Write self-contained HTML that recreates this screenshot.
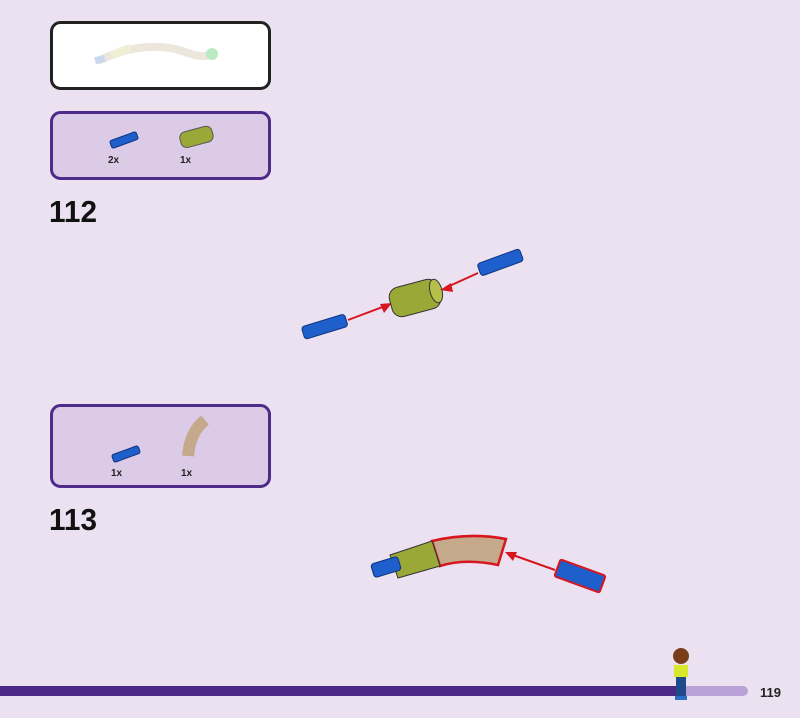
<!DOCTYPE html>
<html><head><style>
html,body{margin:0;padding:0;background:#ebe1f0;}
svg{display:block;}
text{font-family:"Liberation Sans",sans-serif;}
</style></head><body>
<svg width="800" height="718" viewBox="0 0 800 718">
<rect width="800" height="718" fill="#ebe1f0"/>
<!-- box 1 -->
<rect x="51.5" y="22.5" width="218" height="66" rx="9" fill="#fff" stroke="#222" stroke-width="3"/>
<path d="M100 60 Q125 48 150 47 Q170 46 185 52 Q200 58 210 55" fill="none" stroke="#ede6dc" stroke-width="8" stroke-linecap="round"/>
<path d="M112 56 Q122 50 130 48" stroke="#eef0d4" stroke-width="8" fill="none"/>
<rect x="95" y="56" width="10" height="7" fill="#c8d8f0" transform="rotate(-15 100 60)"/>
<circle cx="212" cy="54" r="6" fill="#b8eac4"/>
<!-- box 2 -->
<rect x="51.5" y="112.5" width="218" height="66" rx="9" fill="#dccbe6" stroke="#4e2a8a" stroke-width="3"/>
<rect x="110" y="136" width="28" height="8" rx="2" fill="#1f5fcc" stroke="#0d3380" stroke-width="1" transform="rotate(-20 124 140)"/>
<text x="108" y="163" font-size="10" font-weight="bold" fill="#222">2x</text>
<rect x="180" y="129" width="33" height="16" rx="6" fill="#9aa838" stroke="#555" stroke-width="1" transform="rotate(-15 196 137)"/>
<text x="180" y="163" font-size="10" font-weight="bold" fill="#222">1x</text>
<text x="49" y="222" font-size="31" font-weight="bold" fill="#111" textLength="48" lengthAdjust="spacingAndGlyphs">112</text>
<!-- step 112 -->
<rect x="302" y="320" width="45" height="13" rx="3" fill="#1f5fcc" stroke="#0d3380" transform="rotate(-17 325 326)"/>
<line x1="348" y1="320" x2="385" y2="306" stroke="#d8161f" stroke-width="2"/>
<polygon points="392,303 380,304 384,313" fill="#d8161f"/>
<rect x="390" y="283" width="50" height="30" rx="10" fill="#9aa838" stroke="#333" transform="rotate(-15 415 298)"/>
<ellipse cx="436" cy="291" rx="6" ry="12" fill="#b4c04a" stroke="#333" transform="rotate(-15 436 291)"/>
<line x1="445" y1="288" x2="478" y2="273" stroke="#d8161f" stroke-width="2"/>
<polygon points="440,290 451,283 453,292" fill="#d8161f"/>
<rect x="478" y="256" width="45" height="13" rx="3" fill="#1f5fcc" stroke="#0d3380" transform="rotate(-20 500 263)"/>
<!-- box 3 -->
<rect x="51.5" y="405.5" width="218" height="81" rx="9" fill="#dccbe6" stroke="#4e2a8a" stroke-width="3"/>
<rect x="112" y="450" width="28" height="8" rx="2" fill="#1f5fcc" stroke="#0d3380" transform="rotate(-20 126 454)"/>
<text x="111" y="476" font-size="10" font-weight="bold" fill="#222">1x</text>
<path d="M188 456 Q190 432 205 420" fill="none" stroke="#c4a98a" stroke-width="12"/>
<text x="181" y="476" font-size="10" font-weight="bold" fill="#222">1x</text>
<text x="49" y="530" font-size="31" font-weight="bold" fill="#111" textLength="48" lengthAdjust="spacingAndGlyphs">113</text>
<!-- step 113 -->
<path d="M432 541 Q470 532 506 539 L498 565 Q465 558 440 566 Z" fill="#c4a98a" stroke="#d8161f" stroke-width="2.5"/>
<path d="M390 555 L432 541 L440 566 L398 578 Z" fill="#9aa838" stroke="#333"/>
<rect x="372" y="560" width="28" height="14" rx="3" fill="#1f5fcc" stroke="#0d3380" transform="rotate(-17 386 567)"/>
<line x1="510" y1="554" x2="555" y2="570" stroke="#d8161f" stroke-width="2"/>
<polygon points="505,552 517,552 513,561" fill="#d8161f"/>
<rect x="556" y="567" width="48" height="18" rx="2" fill="#1f5fcc" stroke="#d8161f" stroke-width="2" transform="rotate(20 580 576)"/>
<!-- bottom bar -->
<rect x="0" y="686" width="748" height="10" rx="5" fill="#b9a2d6"/>
<rect x="0" y="686" width="680" height="10" fill="#4a2a85"/>
<text x="760" y="697" font-size="13" font-weight="bold" fill="#222">119</text>
<!-- figure -->
<circle cx="681" cy="656" r="8" fill="#7a3d1c"/>
<rect x="674" y="665" width="14" height="12" fill="#d8e82a"/>
<rect x="676" y="677" width="10" height="20" fill="#1f4a8a"/>
<rect x="675" y="696" width="12" height="4" fill="#2b6fc4"/>
</svg>
</body></html>
